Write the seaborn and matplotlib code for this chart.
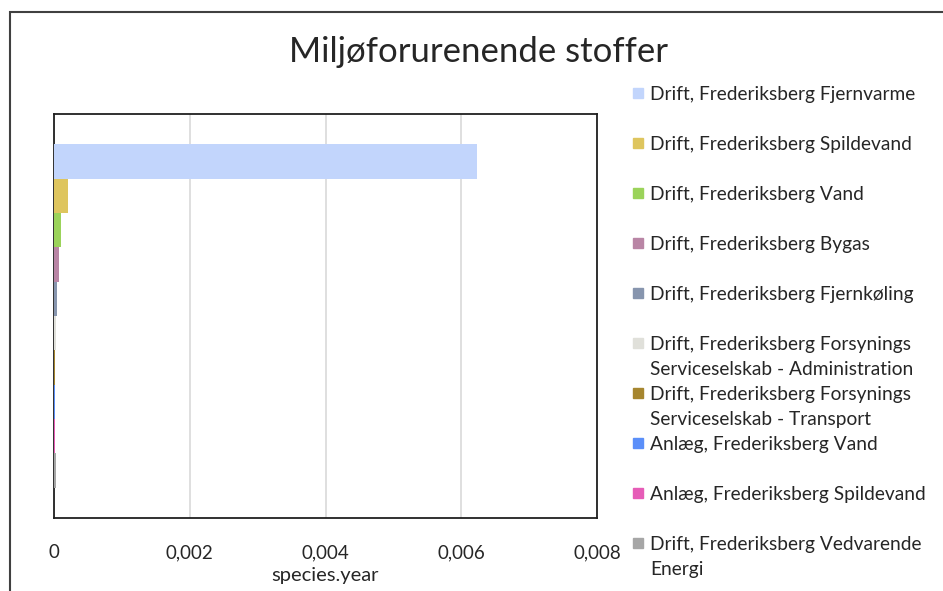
import numpy as np
import pandas as pd
import seaborn as sns
import matplotlib.pyplot as plt
from matplotlib.patches import Rectangle
from matplotlib.ticker import FuncFormatter

title = "Miljøforurenende stoffer"
x_label = "species.year"
series = [
    "Drift, Frederiksberg Fjernvarme",
    "Drift, Frederiksberg Spildevand",
    "Drift, Frederiksberg Vand",
    "Drift, Frederiksberg Bygas",
    "Drift, Frederiksberg Fjernkøling",
    "Drift, Frederiksberg Forsynings\nServiceselskab - Administration",
    "Drift, Frederiksberg Forsynings\nServiceselskab - Transport",
    "Anlæg, Frederiksberg Vand",
    "Anlæg, Frederiksberg Spildevand",
    "Drift, Frederiksberg Vedvarende\nEnergi",
]
values = [0.00623, 0.00021, 0.0001, 0.00008, 0.00005,
          0.00003, 0.000022, 0.00002, 0.00002, 0.000025]
colors = ["#C2D5FC", "#DEC55E", "#9BD35A", "#B985A5", "#8795AE",
          "#E0E0DA", "#A6862F", "#5B8FF9", "#E65CB7", "#A6A6A6"]
x_ticks = [0, 0.002, 0.004, 0.006, 0.008]

df = pd.DataFrame({"cat": [""] * len(series), "series": series, "value": values})

sns.set_style("white")
plt.rcParams["font.family"] = ["Lato", "DejaVu Sans"]

W, H = 943, 591
fig = plt.figure(figsize=(W / 100, H / 100), dpi=100)
ax = fig.add_axes([54 / W, 1 - 518 / H, (597 - 54) / W, (518 - 114) / H])

sns.barplot(data=df, x="value", y="cat", hue="series", hue_order=series,
            palette=colors, orient="h", width=0.85, saturation=1,
            legend=False, ax=ax, zorder=3, linewidth=0, edgecolor="none")

ax.set_xlim(0, 0.008)
ax.set_ylim(0.5, -0.5)
ax.set_xticks(x_ticks)
ax.xaxis.set_major_formatter(FuncFormatter(lambda v, p: "0" if v == 0 else f"{v:.3f}".replace(".", ",")))
ax.tick_params(axis="x", length=0, pad=19, labelsize=13.5)
ax.set_yticks([])
ax.set_ylabel("")
ax.set_xlabel(x_label, fontsize=14.5, labelpad=4)
ax.grid(axis="x", color="#D9D9D9", linewidth=1.2)
ax.set_axisbelow(True)
for s in ax.spines.values():
    s.set_visible(True)
    s.set_color("#202020")
    s.set_linewidth(1.3)
    s.set_zorder(2)

fig.text(478 / W, 1 - 52 / H, title, ha="center", va="center", fontsize=25)

# chart border
fig.patches.append(Rectangle((10 / W, -0.1), 1.2, 1 - 12 / H + 0.1,
                             transform=fig.transFigure, fill=False,
                             edgecolor="#404040", linewidth=1.5))

# legend, drawn manually to match the evenly spaced entries
for i, (name, col) in enumerate(zip(series, colors)):
    y = 93 + 50 * i
    fig.patches.append(Rectangle((633 / W, 1 - (y + 5) / H), 10 / W, 10 / H,
                                 transform=fig.transFigure, color=col))
    for j, line in enumerate(name.split("\n")):
        fig.text(650 / W, 1 - (y + 25 * j) / H, line, ha="left",
                 va="center_baseline", fontsize=13.8)

fig.savefig("out.png", dpi=100)
